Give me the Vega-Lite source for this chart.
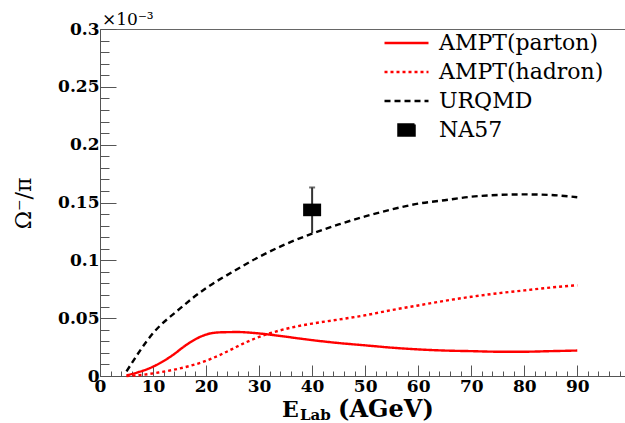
{
  "$schema": "https://vega.github.io/schema/vega-lite/v6.json",
  "width": 525,
  "height": 347,
  "autosize": "none",
  "padding": {"left": 100, "top": 29, "right": 0, "bottom": 47},
  "background": "white",
  "config": {"view": {"stroke": "#666", "strokeWidth": 1}},
  "resolve": {"axis": {"x": "independent", "y": "independent"}},
  "data": {"values": [
    {"series": "AMPT(parton)", "x": 5, "y": 0.0005},
    {"series": "AMPT(parton)", "x": 7, "y": 0.003},
    {"series": "AMPT(parton)", "x": 9.5, "y": 0.007},
    {"series": "AMPT(parton)", "x": 12, "y": 0.013},
    {"series": "AMPT(parton)", "x": 14, "y": 0.019},
    {"series": "AMPT(parton)", "x": 16, "y": 0.026},
    {"series": "AMPT(parton)", "x": 18, "y": 0.0318},
    {"series": "AMPT(parton)", "x": 19.5, "y": 0.035},
    {"series": "AMPT(parton)", "x": 21, "y": 0.037},
    {"series": "AMPT(parton)", "x": 23, "y": 0.0378},
    {"series": "AMPT(parton)", "x": 26, "y": 0.038},
    {"series": "AMPT(parton)", "x": 29, "y": 0.0372},
    {"series": "AMPT(parton)", "x": 32, "y": 0.0358},
    {"series": "AMPT(parton)", "x": 35, "y": 0.034},
    {"series": "AMPT(parton)", "x": 40, "y": 0.031},
    {"series": "AMPT(parton)", "x": 45, "y": 0.0285},
    {"series": "AMPT(parton)", "x": 50, "y": 0.0265},
    {"series": "AMPT(parton)", "x": 55, "y": 0.0245},
    {"series": "AMPT(parton)", "x": 60, "y": 0.023},
    {"series": "AMPT(parton)", "x": 65, "y": 0.022},
    {"series": "AMPT(parton)", "x": 70, "y": 0.0215},
    {"series": "AMPT(parton)", "x": 75, "y": 0.021},
    {"series": "AMPT(parton)", "x": 80, "y": 0.021},
    {"series": "AMPT(parton)", "x": 85, "y": 0.0215},
    {"series": "AMPT(parton)", "x": 90, "y": 0.022},
    {"series": "AMPT(hadron)", "x": 5, "y": 0},
    {"series": "AMPT(hadron)", "x": 8, "y": 0.001},
    {"series": "AMPT(hadron)", "x": 11, "y": 0.003},
    {"series": "AMPT(hadron)", "x": 14, "y": 0.0055},
    {"series": "AMPT(hadron)", "x": 17, "y": 0.0088},
    {"series": "AMPT(hadron)", "x": 19, "y": 0.0115},
    {"series": "AMPT(hadron)", "x": 21, "y": 0.015},
    {"series": "AMPT(hadron)", "x": 23, "y": 0.019},
    {"series": "AMPT(hadron)", "x": 25, "y": 0.0235},
    {"series": "AMPT(hadron)", "x": 27, "y": 0.028},
    {"series": "AMPT(hadron)", "x": 29, "y": 0.032},
    {"series": "AMPT(hadron)", "x": 31.5, "y": 0.0362},
    {"series": "AMPT(hadron)", "x": 34, "y": 0.0395},
    {"series": "AMPT(hadron)", "x": 37, "y": 0.0428},
    {"series": "AMPT(hadron)", "x": 40, "y": 0.0453},
    {"series": "AMPT(hadron)", "x": 45, "y": 0.0488},
    {"series": "AMPT(hadron)", "x": 50, "y": 0.0525},
    {"series": "AMPT(hadron)", "x": 55, "y": 0.057},
    {"series": "AMPT(hadron)", "x": 60, "y": 0.061},
    {"series": "AMPT(hadron)", "x": 65, "y": 0.065},
    {"series": "AMPT(hadron)", "x": 70, "y": 0.0685},
    {"series": "AMPT(hadron)", "x": 75, "y": 0.0715},
    {"series": "AMPT(hadron)", "x": 80, "y": 0.074},
    {"series": "AMPT(hadron)", "x": 85, "y": 0.0765},
    {"series": "AMPT(hadron)", "x": 90, "y": 0.0785},
    {"series": "URQMD", "x": 5, "y": 0.004},
    {"series": "URQMD", "x": 10, "y": 0.037},
    {"series": "URQMD", "x": 15, "y": 0.058},
    {"series": "URQMD", "x": 20, "y": 0.076},
    {"series": "URQMD", "x": 25, "y": 0.09},
    {"series": "URQMD", "x": 30, "y": 0.103},
    {"series": "URQMD", "x": 35, "y": 0.114},
    {"series": "URQMD", "x": 40, "y": 0.123},
    {"series": "URQMD", "x": 45, "y": 0.131},
    {"series": "URQMD", "x": 50, "y": 0.138},
    {"series": "URQMD", "x": 55, "y": 0.144},
    {"series": "URQMD", "x": 60, "y": 0.149},
    {"series": "URQMD", "x": 65, "y": 0.152},
    {"series": "URQMD", "x": 70, "y": 0.155},
    {"series": "URQMD", "x": 75, "y": 0.1565},
    {"series": "URQMD", "x": 80, "y": 0.157},
    {"series": "URQMD", "x": 85, "y": 0.1565},
    {"series": "URQMD", "x": 90, "y": 0.1545},
    {"series": "NA57", "x": 40, "y": 0.1436, "ylo": 0.1234, "yhi": 0.163}
  ]},
  "layer": [
    {
      "transform": [{"filter": "datum.series !== 'NA57'"}],
      "mark": {"type": "line", "interpolate": "monotone", "strokeWidth": 2.4},
      "encoding": {
        "x": {"field": "x", "type": "quantitative",
          "scale": {"domain": [0, 99], "nice": false, "zero": false},
          "axis": {"orient": "bottom", "title": null, "grid": false,
            "values": [0, 10, 20, 30, 40, 50, 60, 70, 80, 90],
            "format": "d", "tickSize": -11,
            "tickColor": "#555", "domainColor": "#555", "tickWidth": 1,
            "labelFont": "DejaVu Serif", "labelFontWeight": "bold", "labelFontSize": 17, "labelColor": "#000",
            "labelFlush": false, "labelOverlap": false, "labelPadding": 13}},
        "y": {"field": "y", "type": "quantitative",
          "scale": {"domain": [0, 0.3], "nice": false, "zero": false},
          "axis": {"orient": "left", "grid": false,
            "title": "Ω⁻/π", "titleFont": "DejaVu Serif", "titleFontWeight": "normal", "titleFontSize": 22, "titleColor": "#000",
            "titleX": -77, "titleY": 174, "titleAngle": -90, "titleAlign": "center", "titleBaseline": "middle",
            "values": [0, 0.05, 0.1, 0.15, 0.2, 0.25, 0.3],
            "labelExpr": "format(datum.value, '~g')", "tickSize": -16,
            "tickColor": "#555", "domainColor": "#555", "tickWidth": 1,
            "labelFont": "DejaVu Serif", "labelFontWeight": "bold", "labelFontSize": 17, "labelColor": "#000",
            "labelOverlap": false, "labelPadding": 17}},
        "color": {"field": "series", "type": "nominal",
          "scale": {"domain": ["AMPT(parton)", "AMPT(hadron)", "URQMD", "NA57"], "range": ["#ff0000", "#ff0000", "#000000", "#000000"]},
          "legend": {"orient": "none", "legendX": 283, "legendY": 3, "title": null,
            "labelFont": "DejaVu Serif", "labelFontSize": 22, "labelColor": "#000", "labelOffset": 9, "rowPadding": 7, "clipHeight": 22, "labelLimit": 400,
            "symbolType": "stroke", "symbolSize": 1936, "symbolStrokeWidth": 2.5,
            "encode": {"symbols": {"update": {
              "shape": {"signal": "datum.value === 'NA57' ? 'M-1,-0.7L1,-0.7L1,0.7L-1,0.7Z' : 'stroke'"},
              "size": {"signal": "datum.value === 'NA57' ? 256 : 1936"},
              "strokeDash": {"signal": "datum.value === 'AMPT(hadron)' ? [3,3] : datum.value === 'URQMD' ? [6,4] : [1,0]"},
              "fill": {"signal": "datum.value === 'NA57' ? '#000' : 'transparent'"},
              "stroke": {"signal": "datum.value === 'NA57' ? 'transparent' : (datum.value === 'URQMD' ? '#000' : '#ff0000')"},
              "strokeWidth": {"value": 2.5},
              "opacity": {"value": 1}
            }}}}},
        "strokeDash": {"field": "series", "type": "nominal",
          "scale": {"domain": ["AMPT(parton)", "AMPT(hadron)", "URQMD"], "range": [[1, 0], [3, 3], [6, 4]]},
          "legend": null}
      }
    },
    {
      "transform": [{"filter": "datum.series === 'NA57'"}],
      "mark": {"type": "rule", "color": "#333", "strokeWidth": 2},
      "encoding": {
        "x": {"field": "x", "type": "quantitative",
          "axis": {"orient": "bottom", "title": null, "grid": false, "labels": false, "domain": false,
            "values": [2,4,6,8,12,14,16,18,22,24,26,28,32,34,36,38,42,44,46,48,52,54,56,58,62,64,66,68,72,74,76,78,82,84,86,88,92,94,96,98],
            "tickSize": -5, "tickColor": "#555", "tickWidth": 1}},
        "y": {"field": "ylo", "type": "quantitative",
          "axis": {"orient": "left", "title": null, "grid": false, "labels": false, "domain": false,
            "values": [0.01,0.02,0.03,0.04,0.06,0.07,0.08,0.09,0.11,0.12,0.13,0.14,0.16,0.17,0.18,0.19,0.21,0.22,0.23,0.24,0.26,0.27,0.28,0.29],
            "tickSize": -9, "tickColor": "#555", "tickWidth": 1}},
        "y2": {"field": "yhi"}
      }
    },
    {
      "transform": [{"filter": "datum.series === 'NA57'"}],
      "mark": {"type": "tick", "orient": "horizontal", "color": "#333", "thickness": 2, "size": 6},
      "encoding": {
        "x": {"field": "x", "type": "quantitative", "axis": null},
        "y": {"field": "yhi", "type": "quantitative", "axis": null}
      }
    },
    {
      "transform": [{"filter": "datum.series === 'NA57'"}],
      "mark": {"type": "point", "filled": true, "opacity": 1, "shape": "M-1,-0.7L1,-0.7L1,0.7L-1,0.7Z", "size": 324},
      "encoding": {
        "x": {"field": "x", "type": "quantitative", "axis": null},
        "y": {"field": "y", "type": "quantitative", "axis": null},
        "color": {"field": "series", "type": "nominal"}
      }
    },
    {
      "data": {"values": [{}]},
      "mark": {"type": "text", "align": "left", "baseline": "alphabetic", "font": "DejaVu Serif", "fontSize": 17, "color": "#000", "dx": 2, "dy": -4},
      "encoding": {"x": {"datum": 0, "axis": null}, "y": {"datum": 0.3, "axis": null}, "text": {"value": "×10⁻³"}}
    },
    {
      "data": {"values": [{}]},
      "mark": {"type": "text", "align": "left", "baseline": "alphabetic", "font": "DejaVu Serif", "fontWeight": "bold", "fontSize": 22, "color": "#000", "dy": 41},
      "encoding": {"x": {"datum": 34.3, "axis": null}, "y": {"datum": 0, "axis": null}, "text": {"value": "E"}}
    },
    {
      "data": {"values": [{}]},
      "mark": {"type": "text", "align": "left", "baseline": "alphabetic", "font": "DejaVu Serif", "fontWeight": "bold", "fontSize": 15, "color": "#000", "dy": 44},
      "encoding": {"x": {"datum": 37.7, "axis": null}, "y": {"datum": 0, "axis": null}, "text": {"value": "Lab"}}
    },
    {
      "data": {"values": [{}]},
      "mark": {"type": "text", "align": "left", "baseline": "alphabetic", "font": "DejaVu Serif", "fontWeight": "bold", "fontSize": 24, "color": "#000", "dy": 41},
      "encoding": {"x": {"datum": 44.9, "axis": null}, "y": {"datum": 0, "axis": null}, "text": {"value": "(AGeV)"}}
    }
  ]
}
